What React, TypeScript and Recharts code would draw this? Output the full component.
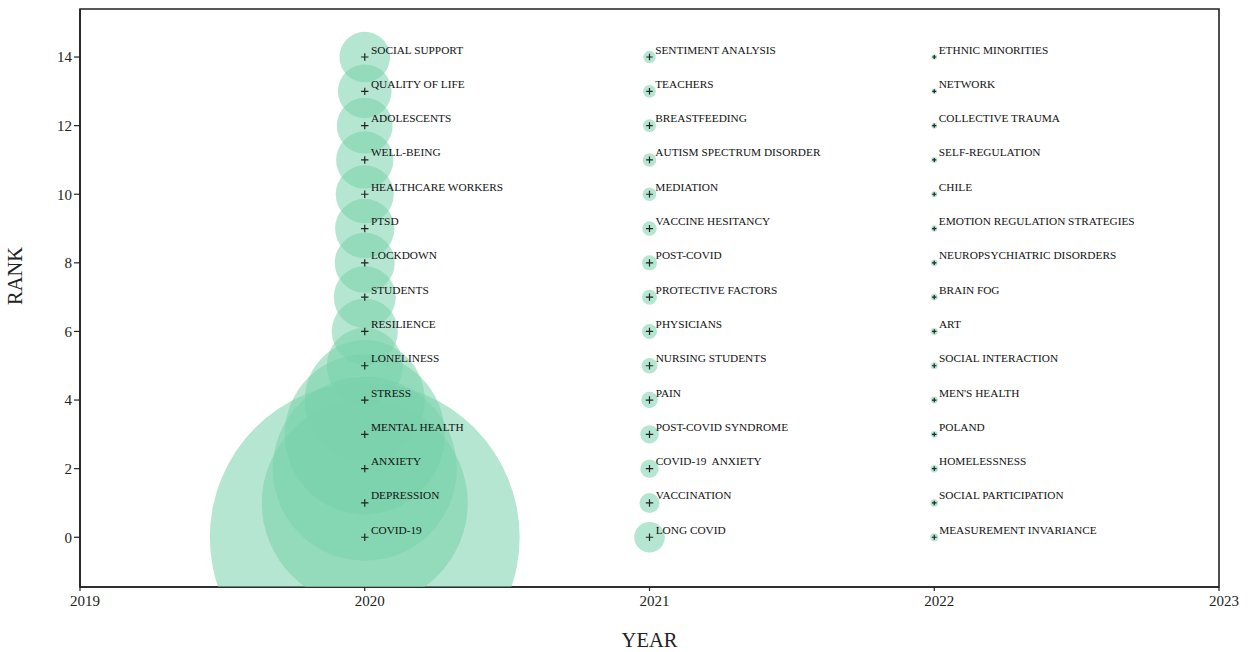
import React from 'react';
import { ScatterChart, Scatter, XAxis, YAxis, ZAxis, ReferenceArea, Label } from 'recharts';

// ---------- data ----------
const years = [2020, 2021, 2022];
const ranks = [0, 1, 2, 3, 4, 5, 6, 7, 8, 9, 10, 11, 12, 13, 14];

const keywords2020 = [
  'COVID-19', 'DEPRESSION', 'ANXIETY', 'MENTAL HEALTH', 'STRESS', 'LONELINESS', 'RESILIENCE',
  'STUDENTS', 'LOCKDOWN', 'PTSD', 'HEALTHCARE WORKERS', 'WELL-BEING', 'ADOLESCENTS',
  'QUALITY OF LIFE', 'SOCIAL SUPPORT',
];
const frequency2020 = [2400, 1060, 846, 640, 360, 144, 109, 96, 90, 88, 84, 82, 78, 72, 64];

const keywords2021 = [
  'LONG COVID', 'VACCINATION', 'COVID-19  ANXIETY', 'POST-COVID SYNDROME', 'PAIN',
  'NURSING STUDENTS', 'PHYSICIANS', 'PROTECTIVE FACTORS', 'POST-COVID', 'VACCINE HESITANCY',
  'MEDIATION', 'AUTISM SPECTRUM DISORDER', 'BREASTFEEDING', 'TEACHERS', 'SENTIMENT ANALYSIS',
];
const frequency2021 = [23.4, 10, 8.5, 8.5, 6.7, 6.1, 5.6, 5.6, 5.6, 5.2, 4.6, 4.6, 4.2, 4.0, 3.8];

const keywords2022 = [
  'MEASUREMENT INVARIANCE', 'SOCIAL PARTICIPATION', 'HOMELESSNESS', 'POLAND', "MEN'S HEALTH",
  'SOCIAL INTERACTION', 'ART', 'BRAIN FOG', 'NEUROPSYCHIATRIC DISORDERS',
  'EMOTION REGULATION STRATEGIES', 'CHILE', 'SELF-REGULATION', 'COLLECTIVE TRAUMA', 'NETWORK',
  'ETHNIC MINORITIES',
];
const frequency2022 = [1.6, 1.4, 1.4, 1.2, 1.2, 1.2, 1.2, 1.1, 1.1, 1.0, 0.9, 0.9, 0.9, 0.75, 0.75];

const xTicks = [2019, 2020, 2021, 2022, 2023];
const yTicks = [0, 2, 4, 6, 8, 10, 12, 14];

const keywordsByYear = [keywords2020, keywords2021, keywords2022];
const frequencyByYear = [frequency2020, frequency2021, frequency2022];

const data = years.flatMap((year, i) =>
  ranks.map((rank, j) => ({
    year,
    rank,
    keyword: keywordsByYear[i][j],
    frequency: frequencyByYear[i][j],
  }))
);

// ---------- layout / style ----------
const W = 1248;
const H = 652;
const MARGIN = { top: 9, right: 29, bottom: 35, left: 20 };
const Y_AXIS_W = 60;
const X_AXIS_H = 30;
const PLOT_LEFT = MARGIN.left + Y_AXIS_W;
const PLOT_RIGHT = W - MARGIN.right;
const PLOT_TOP = MARGIN.top;
const PLOT_BOTTOM = H - MARGIN.bottom - X_AXIS_H;
const FONT = "'Liberation Serif', 'Times New Roman', Times, serif";
const INK = '#222';
const BUBBLE = '#79d1ab';

function Bubble(props: any) {
  const { cx, cy, size } = props;
  if (cx == null || cy == null) return null;
  const r = Math.sqrt(Math.max(size ?? 0, 0) / Math.PI);
  return <circle cx={cx} cy={cy} r={r} fill={BUBBLE} fillOpacity={0.55} stroke="none" />;
}

function Marker(props: any) {
  const { cx, cy, size, payload } = props;
  if (cx == null || cy == null) return null;
  const r = Math.sqrt(Math.max(size ?? 0, 0) / Math.PI);
  const h = Math.min(3.7, 0.35 * r + 1.0);
  return (
    <g>
      <path
        d={`M${cx - h},${cy}H${cx + h}M${cx},${cy - h}V${cy + h}`}
        stroke={INK}
        strokeWidth={1.2}
        fill="none"
      />
      <text
        x={cx + h + 2.5}
        y={cy - 3.5}
        fontSize={11.3}
        fontFamily={FONT}
        fill="#111"
        style={{ whiteSpace: 'pre' }}
      >
        {payload.keyword}
      </text>
    </g>
  );
}

function XTick(props: any) {
  const { x, y, payload } = props;
  return (
    <text x={x + 5} y={y + 12.5} textAnchor="middle" fontSize={15} fontFamily={FONT} fill={INK}>
      {payload.value}
    </text>
  );
}

const yearTitle = () => (
  <text
    x={(PLOT_LEFT + PLOT_RIGHT) / 2}
    y={H - 5.5}
    textAnchor="middle"
    fontSize={20.5}
    fontFamily={FONT}
    fill={INK}
  >
    YEAR
  </text>
);

const rankTitle = () => {
  const cx = 15;
  const cy = (PLOT_TOP + PLOT_BOTTOM) / 2 - 22;
  return (
    <text
      x={cx}
      y={cy}
      transform={`rotate(-90 ${cx} ${cy})`}
      textAnchor="middle"
      dominantBaseline="central"
      fontSize={20.5}
      fontFamily={FONT}
      fill={INK}
    >
      RANK
    </text>
  );
};

export default function App() {
  return (
    <div
      style={{
        position: 'absolute',
        left: 0,
        top: 0,
        width: W,
        height: H,
        background: '#fff',
        fontFamily: FONT,
      }}
    >
      <ScatterChart width={W} height={H} margin={MARGIN}>
        <XAxis
          type="number"
          dataKey="year"
          domain={[2019, 2023]}
          ticks={xTicks}
          interval={0}
          allowDataOverflow
          height={X_AXIS_H}
          tickSize={4}
          tick={<XTick />}
          axisLine={{ stroke: INK, strokeWidth: 1.6 }}
          tickLine={{ stroke: INK, strokeWidth: 1.2 }}
          label={<Label content={yearTitle} />}
        />
        <YAxis
          type="number"
          dataKey="rank"
          domain={[-1.45, 15.4]}
          ticks={yTicks}
          interval={0}
          allowDataOverflow
          width={Y_AXIS_W}
          tickSize={6}
          tick={{ fill: INK, fontSize: 15, fontFamily: FONT }}
          axisLine={{ stroke: INK, strokeWidth: 1.6 }}
          tickLine={{ stroke: INK, strokeWidth: 1.2 }}
          label={<Label content={rankTitle} />}
        />
        <ZAxis type="number" dataKey="frequency" domain={[0, 2500]} range={[0, 2500 * 10 * Math.PI]} />
        <ReferenceArea
          x1={2019}
          x2={2023}
          y1={-1.45}
          y2={15.4}
          fill="none"
          stroke={INK}
          strokeWidth={1.6}
          ifOverflow="visible"
        />
        <Scatter data={data} shape={Bubble} isAnimationActive={false} />
        <Scatter data={data} shape={Marker} isAnimationActive={false} />
      </ScatterChart>
    </div>
  );
}
